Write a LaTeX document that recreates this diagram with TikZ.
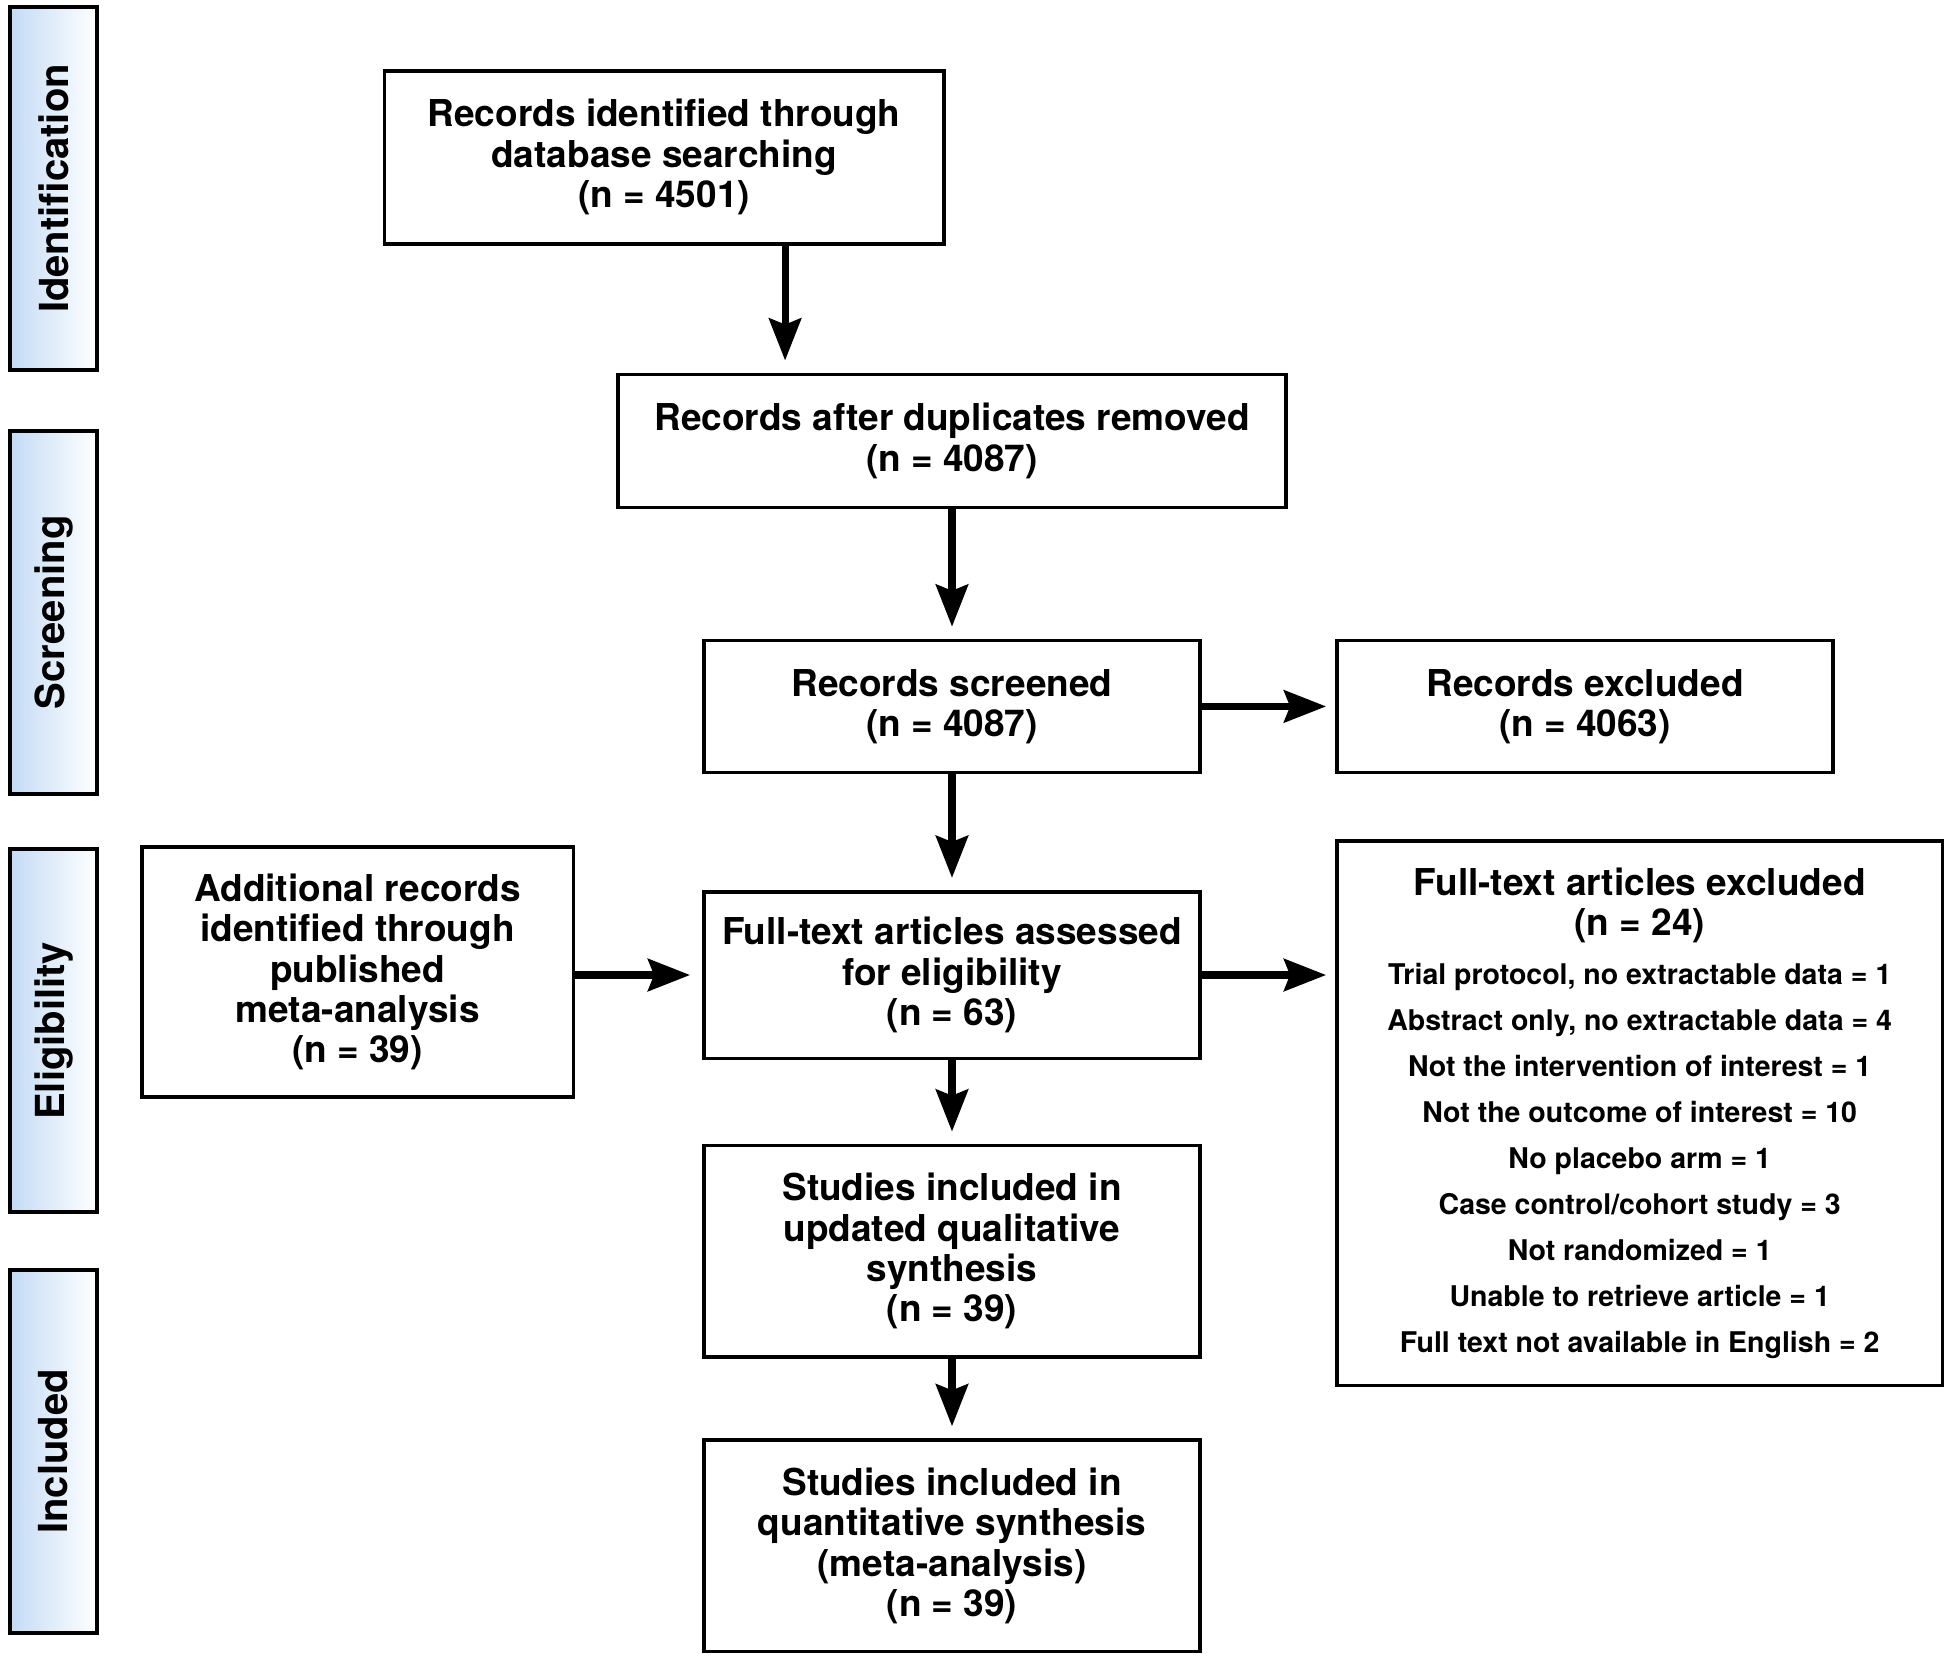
\documentclass[tikz,border=0pt]{standalone}
\usepackage{fontspec}
\usepackage{graphicx}
\setmainfont{TeX Gyre Heros}
\usetikzlibrary{arrows.meta}
\newcommand\bigfnt{\fontsize{18.5pt}{20.2pt}\selectfont\bfseries}
\newcommand\smallfnt{\fontsize{14.25pt}{23pt}\selectfont\bfseries}
\newcommand\sidefnt{\fontsize{20pt}{24pt}\selectfont\bfseries}
\definecolor{sideblue}{RGB}{196,219,245}
\begin{document}
\begin{tikzpicture}[x=0.5pt,y=-0.5pt,
  box/.style={draw, line width=1.8pt, align=center, font=\bigfnt, inner sep=0pt},
  side/.style={draw, line width=1.8pt, left color=sideblue, right color=white,
    minimum width=43.5pt, minimum height=181.5pt, inner sep=0pt},
  arr/.style={line width=3.6pt, -{Stealth[length=21pt,width=16pt,inset=3pt]}, shorten >=6pt}]
\useasboundingbox (0,0) rectangle (1950,1662);

% side labels
\node[side] (s1) at (53.5,188.5) {\rotatebox{90}{\sidefnt Identification}};
\node[side] (s2) at (53.5,612.25) {\rotatebox{90}{\sidefnt Screening}};
\node[side] (s3) at (53.5,1030.75) {\rotatebox{90}{\sidefnt Eligibility}};
\node[side] (s4) at (53.5,1451.5) {\rotatebox{90}{\sidefnt Included}};

% boxes
\node[box, minimum width=279.8pt, minimum height=86.4pt] (b1) at (664.1,157.3)
  {Records identified through\\database searching\\(n = 4501)};
\node[box, minimum width=333.9pt, minimum height=66.55pt] (b2) at (952,440.85)
  {Records after duplicates removed\\(n = 4087)};
\node[box, minimum width=248.1pt, minimum height=65.9pt] (b3) at (952,706.4)
  {Records screened\\(n = 4087)};
\node[box, minimum width=248.1pt, minimum height=65.9pt] (e1) at (1585,706.4)
  {Records excluded\\(n = 4063)};
\node[box, minimum width=215.75pt, minimum height=125pt] (ad) at (357.55,971.9)
  {Additional records\\identified through\\published\\meta-analysis\\(n = 39)};
\node[box, minimum width=248.1pt, minimum height=83.3pt] (b4) at (952,975)
  {Full-text articles assessed\\for eligibility\\(n = 63)};
\node[box, font=\smallfnt, minimum width=302.8pt, minimum height=272.35pt] (e2) at (1639.7,1113.05)
  {{\bigfnt Full-text articles excluded}\\[-2.6pt]{\bigfnt (n = 24)}\\[1.3pt]
   Trial protocol, no extractable data = 1\\
   Abstract only, no extractable data = 4\\
   Not the intervention of interest = 1\\
   Not the outcome of interest = 10\\
   No placebo arm = 1\\
   Case control/cohort study = 3\\
   Not randomized = 1\\
   Unable to retrieve article = 1\\
   Full text not available in English = 2};
\node[box, minimum width=248.1pt, minimum height=105.7pt] (b5) at (952,1251.1)
  {Studies included in\\updated qualitative\\synthesis\\(n = 39)};
\node[box, minimum width=248.1pt, minimum height=105.7pt] (b6) at (952,1545.8)
  {Studies included in\\quantitative synthesis\\(meta-analysis)\\(n = 39)};

% arrows
\draw[arr] ([xshift=60.5pt]b1.south) -- ([xshift=60.5pt]b1.south |- b2.north);
\draw[arr] (b2) -- (b3);
\draw[arr] (b3.south) -- (b4.north);
\draw[arr, shorten >=4.5pt] (b3.east) -- (e1.west);
\draw[arr] (ad.east |- b4.west) -- (b4.west);
\draw[arr, shorten >=4.5pt] (b4.east) -- (b4.east -| e2.west);
\draw[arr] (b4.south) -- (b5.north);
\draw[arr] (b5.south) -- (b6.north);
\end{tikzpicture}
\end{document}
